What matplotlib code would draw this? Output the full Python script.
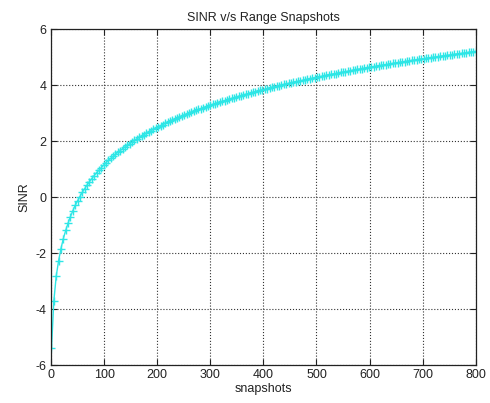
import numpy as np
import matplotlib
matplotlib.use('Agg')
import matplotlib.pyplot as plt

# snapshot positions of the plotted points (180 evenly spaced, 1..800)
SNAPSHOTS = np.linspace(1, 800, 180)

# SINR (dB), one per point
SINR = [
    -5.40, -3.70, -2.82, -2.27, -1.84, -1.48, -1.19, -0.93, -0.70, -0.49,
    -0.30, -0.13, 0.02, 0.17, 0.30, 0.43, 0.55, 0.66, 0.77, 0.87,
    0.96, 1.05, 1.14, 1.23, 1.31, 1.38, 1.46, 1.53, 1.60, 1.66,
    1.73, 1.79, 1.85, 1.91, 1.97, 2.02, 2.08, 2.13, 2.18, 2.23,
    2.28, 2.33, 2.37, 2.42, 2.46, 2.51, 2.55, 2.59, 2.63, 2.67,
    2.71, 2.75, 2.79, 2.82, 2.86, 2.89, 2.93, 2.96, 3.00, 3.03,
    3.06, 3.10, 3.13, 3.16, 3.19, 3.22, 3.25, 3.28, 3.31, 3.33,
    3.36, 3.39, 3.42, 3.44, 3.47, 3.50, 3.52, 3.55, 3.57, 3.60,
    3.62, 3.65, 3.67, 3.69, 3.72, 3.74, 3.76, 3.79, 3.81, 3.83,
    3.85, 3.87, 3.90, 3.92, 3.94, 3.96, 3.98, 4.00, 4.02, 4.04,
    4.06, 4.08, 4.10, 4.12, 4.13, 4.15, 4.17, 4.19, 4.21, 4.23,
    4.24, 4.26, 4.28, 4.30, 4.31, 4.33, 4.35, 4.37, 4.38, 4.40,
    4.41, 4.43, 4.45, 4.46, 4.48, 4.49, 4.51, 4.53, 4.54, 4.56,
    4.57, 4.59, 4.60, 4.62, 4.63, 4.65, 4.66, 4.67, 4.69, 4.70,
    4.72, 4.73, 4.74, 4.76, 4.77, 4.79, 4.80, 4.81, 4.83, 4.84,
    4.85, 4.86, 4.88, 4.89, 4.90, 4.92, 4.93, 4.94, 4.95, 4.97,
    4.98, 4.99, 5.00, 5.01, 5.03, 5.04, 5.05, 5.06, 5.07, 5.09,
    5.10, 5.11, 5.12, 5.13, 5.14, 5.15, 5.17, 5.18, 5.19, 5.20,
]

XTICKS = [0, 100, 200, 300, 400, 500, 600, 700, 800]
YTICKS = [-6, -4, -2, 0, 2, 4, 6]

plt.rcParams['font.family'] = ['Liberation Sans', 'DejaVu Sans']
plt.rcParams['axes.unicode_minus'] = False

fig = plt.figure(figsize=(4.9, 4.03), dpi=100)
ax = fig.add_axes([0.104, 0.094, 0.867, 0.834])

ax.plot(SNAPSHOTS, SINR, color='#2ee6e6', marker='+',
        markersize=6, markeredgewidth=1.0, linewidth=1.0)

ax.set_xlim(0, 800)
ax.set_ylim(-6, 6)
ax.set_xticks(XTICKS)
ax.set_yticks(YTICKS)
ax.tick_params(direction='in', top=True, right=True, length=4,
               labelsize=9, colors='#222222', pad=3)
ax.grid(True, linestyle=':', color='#333333', linewidth=0.8)
for s in ax.spines.values():
    s.set_color('#222222')
    s.set_linewidth(0.9)

ax.set_title('SINR v/s Range Snapshots', fontsize=9, color='#222222', pad=6)
ax.set_xlabel('snapshots', fontsize=9, color='#222222', labelpad=1)
ax.set_ylabel('SINR', fontsize=9, color='#222222', labelpad=4)

fig.savefig('out.png', dpi=100)
